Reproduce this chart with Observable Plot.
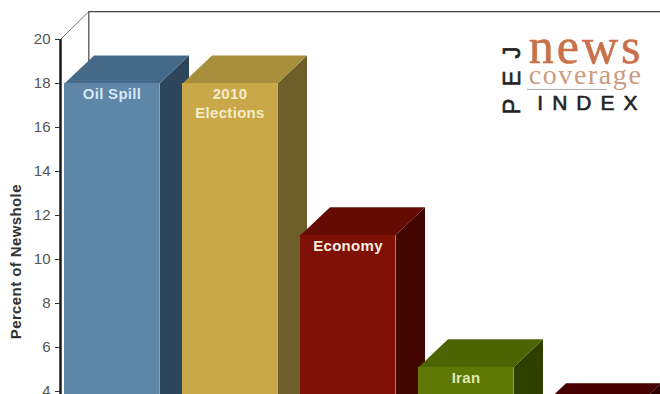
<!DOCTYPE html>
<html>
<head>
<meta charset="utf-8">
<script src="https://cdn.jsdelivr.net/npm/d3@7"></script>
<script src="https://cdn.jsdelivr.net/npm/@observablehq/plot@0.6"></script>
<style>
  html, body { margin: 0; padding: 0; background: #fff; }
  svg { display: block; }
  .axis-title text { letter-spacing: 0.4px; }
  .bar-label text { letter-spacing: 0.3px; }
  .logo-news text { letter-spacing: 3px; }
  .logo-coverage text { letter-spacing: 1.6px; }
  .logo-index text { letter-spacing: 9px; }
  .logo-pej text { letter-spacing: 12px; }
</style>
</head>
<body>
<script>
// Share of the newshole by topic, drawn as extruded columns.
const topics = ["Oil Spill", "2010\nElections", "Economy", "Iran", ""];
const shares = [18, 18, 11.1, 5.1, 3.1];
const frontColors = ["#5f86a6", "#c9a84a", "#7f1005", "#5f7805", "#5a0505"];
const sideColors = ["#2e4659", "#6e5f2a", "#420500", "#2f3f00", "#300000"];
const topColors = ["#456a88", "#a88f3c", "#640c02", "#4e6403", "#470000"];
const labelColors = ["#d6e8f4", "#f4ecc8", "#f4ece0", "#dfeab0", "#ffffff"];
const yTicks = d3.range(4, 21, 2);

// Extrusion, in slot widths across and percentage points up.
const barWidth = 0.805;
const depthX = 0.25;
const depthY = 1.27;
const axisX = -4 / 118;

const bars = topics.map((name, i) => ({
  name, i, share: shares[i],
  front: frontColors[i], side: sideColors[i], top: topColors[i], ink: labelColors[i]
}));

// Each receding face is a closed polygon, one row per corner.
const sideFaces = bars.flatMap(b => {
  const r = b.i + barWidth;
  return [[r, 0], [r + depthX, depthY], [r + depthX, b.share + depthY], [r, b.share]]
    .map(([x, y]) => ({x, y, id: b.i, fill: b.side}));
});
const topFaces = bars.flatMap(b => {
  const l = b.i, r = b.i + barWidth;
  return [[l, b.share], [l + depthX, b.share + depthY], [r + depthX, b.share + depthY], [r, b.share]]
    .map(([x, y]) => ({x, y, id: b.i, fill: b.top}));
});

const wallTop = 20 + depthY;
const wallLeft = axisX + 0.24;

const logoFont = {frameAnchor: "top-right"};

const chart = Plot.plot({
  width: 660,
  height: 394,
  marginLeft: 60,
  marginRight: 0,
  marginTop: 0,
  marginBottom: 0,
  style: {background: "#fff", fontFamily: "Liberation Sans, Arial, sans-serif"},
  x: {type: "linear", axis: null, domain: [axisX, 596 / 118], range: [60, 660]},
  y: {axis: null, domain: [0, 20], range: [479, 39]},
  marks: [
    // back wall of the plot box
    Plot.line([[axisX, 20], [wallLeft, wallTop]], {x: d => d[0], y: d => d[1], stroke: "#777", strokeWidth: 1}),
    Plot.line([[wallLeft, 0], [wallLeft, wallTop], [6, wallTop]], {x: d => d[0], y: d => d[1], stroke: "#444", strokeWidth: 1.2}),

    // columns
    Plot.line(sideFaces, {x: "x", y: "y", z: "id", fill: "fill", stroke: "none"}),
    Plot.line(topFaces, {x: "x", y: "y", z: "id", fill: "fill", stroke: "none"}),
    Plot.rect(bars, {x1: "i", x2: d => d.i + barWidth, y1: 0, y2: "share", fill: "front"}),

    // value axis
    Plot.ruleX([axisX], {y1: 0, y2: 20, stroke: "#1a1a1a", strokeWidth: 2.5}),
    Plot.axisY(yTicks, {
      anchor: "left", label: null, tickSize: 5, tickPadding: 5,
      stroke: "#333", fontSize: 15, fill: "#555"
    }),
    Plot.text(["Percent of Newshole"], {
      y: () => 9.9, frameAnchor: "left", textAnchor: "middle", dx: -44, rotate: -90, className: "axis-title",
      fontSize: 15, fontWeight: "bold", fill: "#333"
    }),

    // topic names at the head of each column
    Plot.text(bars, {
      x: d => d.i + barWidth / 2, y: "share", text: "name", fill: "ink", className: "bar-label",
      lineAnchor: "top", dy: 2, fontSize: 15, fontWeight: "bold", lineHeight: 1.27
    }),

    // masthead
    Plot.text(["news"], {...logoFont, className: "logo-news", dx: -17, dy: 46, lineAnchor: "middle",
      fontFamily: "Liberation Serif, serif", fontSize: 50, fill: "#c8714b", stroke: "#c8714b", strokeWidth: 0.6}),
    Plot.text(["coverage"], {...logoFont, className: "logo-coverage", dx: -18, dy: 75, lineAnchor: "middle",
      fontFamily: "Liberation Serif, serif", fontSize: 28, fill: "#cb9a80"}),
    Plot.ruleY([17.73], {x1: 3.924, x2: 4.6, stroke: "#aaa", strokeWidth: 1}),
    Plot.text(["INDEX"], {...logoFont, className: "logo-index", dx: -14, dy: 103, lineAnchor: "middle",
      fontSize: 21, fill: "#222", stroke: "#222", strokeWidth: 0.6}),
    Plot.text(["PEJ"], {...logoFont, className: "logo-pej", dx: -148, dy: 74, rotate: -90, textAnchor: "middle",
      lineAnchor: "middle", fontSize: 24, fill: "#222", stroke: "#222", strokeWidth: 0.6})
  ]
});

document.body.appendChild(chart);
</script>
</body>
</html>
